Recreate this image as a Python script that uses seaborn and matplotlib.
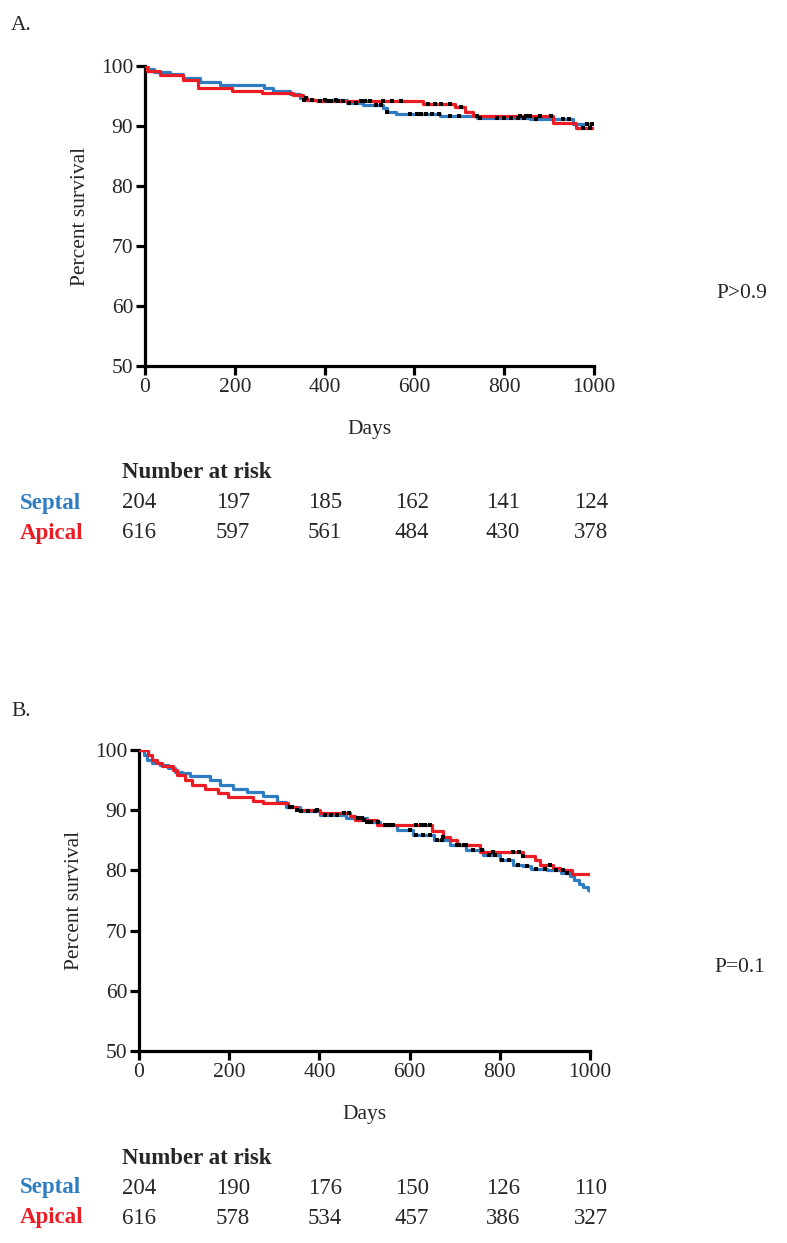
import numpy as np
import pandas as pd
import matplotlib
matplotlib.use("Agg")
import matplotlib.pyplot as plt
import seaborn as sns

sns.set_theme(style="white")
plt.rcParams['font.family'] = ['Liberation Serif', 'DejaVu Serif']

BLUE = "#2E7DC2"
RED = "#EC1C24"

# ---------------- Data ----------------
# Panel A: step points (day, percent survival)
a_septal_days = [0, 7, 19, 56, 85, 122, 167, 264, 286, 323, 345, 353, 449, 486, 531, 538, 560, 657, 739, 857, 954, 1000]
a_septal_surv = [100, 99.5, 99.0, 98.6, 98.0, 97.3, 96.9, 96.4, 95.8, 95.3, 94.6, 94.3, 93.9, 93.5, 93.0, 92.3, 92.0, 91.7, 91.4, 91.1, 90.4, 90.4]
a_apical_days = [0, 4, 33, 85, 119, 193, 260, 330, 353, 360, 382, 620, 690, 713, 731, 909, 961, 1000]
a_apical_surv = [100, 99.2, 98.5, 97.6, 96.3, 95.8, 95.5, 95.2, 94.7, 94.4, 94.2, 93.6, 93.1, 92.3, 91.6, 90.5, 89.6, 89.6]
a_septal_cens = [355, 372, 400, 425, 455, 470, 515, 525, 540, 590, 605, 615, 625, 640, 655, 680, 700, 745, 783, 800, 815, 830, 845, 870, 930, 945, 985, 995]
a_apical_cens = [358, 390, 405, 415, 430, 440, 482, 490, 500, 530, 550, 570, 630, 645, 660, 680, 703, 739, 835, 848, 857, 880, 905, 975, 990]

# Panel B
b_septal_days = [0, 10, 17, 28, 47, 65, 80, 95, 113, 157, 180, 209, 239, 276, 305, 327, 357, 401, 460, 505, 534, 571, 608, 653, 689, 726, 763, 800, 830, 852, 870, 905, 935, 955, 965, 975, 985, 995, 1000]
b_septal_surv = [100, 99.2, 98.3, 97.8, 97.5, 97.0, 96.4, 96.1, 95.6, 95.0, 94.2, 93.6, 93.1, 92.3, 91.4, 90.6, 89.9, 89.2, 88.7, 88.1, 87.6, 86.7, 85.9, 85.1, 84.3, 83.4, 82.6, 81.8, 80.9, 80.7, 80.3, 80.0, 79.6, 79.0, 78.4, 77.8, 77.3, 76.8, 76.6]
b_apical_days = [0, 21, 28, 39, 50, 76, 84, 102, 117, 146, 176, 198, 253, 276, 331, 350, 401, 468, 479, 527, 649, 675, 689, 704, 756, 852, 878, 889, 918, 933, 960, 1000]
b_apical_surv = [100, 99.2, 98.3, 97.8, 97.3, 96.7, 95.9, 95.0, 94.2, 93.5, 92.8, 92.2, 91.5, 91.2, 90.6, 90.1, 89.5, 89.0, 88.3, 87.6, 86.5, 85.6, 85.1, 84.3, 83.1, 82.4, 81.8, 80.9, 80.4, 80.0, 79.4, 79.4]
b_septal_cens = [340, 360, 375, 390, 412, 425, 438, 485, 495, 505, 515, 530, 545, 555, 600, 615, 630, 645, 660, 672, 710, 725, 740, 760, 775, 790, 805, 820, 840, 860, 880, 900, 925, 950]
b_apical_cens = [335, 350, 394, 455, 465, 498, 564, 615, 625, 635, 645, 675, 705, 720, 785, 830, 842, 852, 911, 940]

# Number at risk
risk_times = [0, 200, 400, 600, 800, 1000]
a_risk_septal = [204, 197, 185, 162, 141, 124]
a_risk_apical = [616, 597, 561, 484, 430, 378]
b_risk_septal = [204, 190, 176, 150, 126, 110]
b_risk_apical = [616, 578, 534, 457, 386, 327]

# ---------------- Figure ----------------
W, H = 787, 1243
fig = plt.figure(figsize=(W / 100, H / 100), dpi=100)

FS = 15.5
FS_TAB = 16.5
LW = 2.3


def px_rect(l, t, r, b):
    return [l / W, 1 - b / H, (r - l) / W, (b - t) / H]


def step_val(days, surv, t):
    idx = np.searchsorted(days, t, side="right") - 1
    return surv[idx]


def panel(rect, sd, ss, ad, as_, sc, ac):
    ax = fig.add_axes(rect)
    df = pd.concat([
        pd.DataFrame({"Days": sd, "Survival": ss, "Group": "Septal"}),
        pd.DataFrame({"Days": ad, "Survival": as_, "Group": "Apical"}),
    ], ignore_index=True)
    sns.lineplot(data=df, x="Days", y="Survival", hue="Group",
                 palette={"Septal": BLUE, "Apical": RED},
                 estimator=None, sort=False, drawstyle="steps-post",
                 linewidth=LW, legend=False, ax=ax, zorder=3)
    cens = pd.DataFrame({
        "Days": list(sc) + list(ac),
        "Survival": [step_val(sd, ss, t) for t in sc] + [step_val(ad, as_, t) for t in ac],
    })
    sns.scatterplot(data=cens, x="Days", y="Survival", color="black", marker="s",
                    s=7, linewidth=0, ax=ax, zorder=4)
    ax.set_xlim(0, 1000)
    ax.set_ylim(50, 100)
    ax.set_xticks([0, 200, 400, 600, 800, 1000])
    ax.set_yticks([50, 60, 70, 80, 90, 100])
    for s in ["top", "right"]:
        ax.spines[s].set_visible(False)
    for s in ["left", "bottom"]:
        ax.spines[s].set_linewidth(LW)
        ax.spines[s].set_color("black")
    ax.tick_params(axis="both", direction="out", length=6.5, width=LW,
                   labelsize=FS, color="black", pad=2, left=True, bottom=True)
    ax.set_xlabel("Days", fontsize=FS, labelpad=17)
    ax.set_ylabel("Percent survival", fontsize=FS, labelpad=8)
    ax.margins(0)
    return ax


axA = panel(px_rect(145, 66, 594, 366), a_septal_days, a_septal_surv,
            a_apical_days, a_apical_surv, a_septal_cens, a_apical_cens)
axB = panel(px_rect(139, 750, 590, 1051), b_septal_days, b_septal_surv,
            b_apical_days, b_apical_surv, b_septal_cens, b_apical_cens)


def ftext(x, y, s, fs=FS, **kw):
    fig.text(x / W, 1 - y / H, s, fontsize=fs, **kw)


ftext(11, 26, "A.", ha="left", va="center")
ftext(11, 712, "B.", ha="left", va="center")
ftext(716, 293, "P>0.9", ha="left", va="center")
ftext(714, 967, "P=0.1", ha="left", va="center")

col_x = [139, 233, 325, 412, 503, 591]


def risk_table(y0, septal, apical):
    ftext(122, y0, "Number at risk", fs=FS_TAB, ha="left", va="center", fontweight="bold")
    ftext(20, y0 + 30, "Septal", fs=FS_TAB, ha="left", va="center", fontweight="bold", color=BLUE)
    ftext(20, y0 + 60, "Apical", fs=FS_TAB, ha="left", va="center", fontweight="bold", color=RED)
    for x, s, a in zip(col_x, septal, apical):
        ftext(x, y0 + 30, str(s), fs=FS_TAB, ha="center", va="center")
        ftext(x, y0 + 60, str(a), fs=FS_TAB, ha="center", va="center")


risk_table(473, a_risk_septal, a_risk_apical)
risk_table(1158, b_risk_septal, b_risk_apical)

fig.savefig("out.png", dpi=100)
